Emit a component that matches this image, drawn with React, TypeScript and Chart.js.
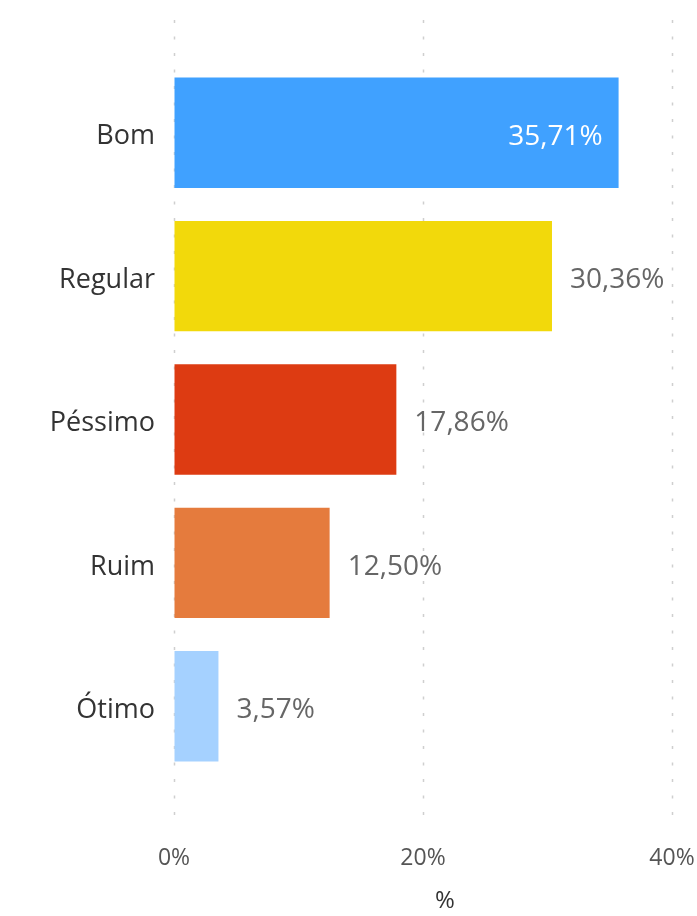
import React, { useEffect, useRef } from 'react';
import { Chart, registerables } from 'chart.js';

Chart.register(...registerables);

const categories = ['Bom', 'Regular', 'Péssimo', 'Ruim', 'Ótimo'];
const values = [35.71, 30.36, 17.86, 12.5, 3.57];
const barColors = ['#40A1FF', '#F2D90B', '#DD3B12', '#E57B3D', '#A5D1FF'];
const xTicks = [0, 20, 40];
const axisTitle = '%';
const labelInside = [true, false, false, false, false];

const FONT = "'Open Sans', 'DejaVu Sans', sans-serif";

const fmt = (v: number) => v.toFixed(2).replace('.', ',') + '%';

const dotGridPlugin = {
  id: 'dotGrid',
  beforeDatasetsDraw(chart: any) {
    const { ctx, chartArea, scales } = chart;
    const x = scales.x;
    ctx.save();
    ctx.strokeStyle = '#CFCFCF';
    ctx.lineWidth = 1.5;
    ctx.setLineDash([3, 13.5]);
    xTicks.forEach((v) => {
      const px = Math.round(x.getPixelForValue(v)) + 0.5;
      ctx.beginPath();
      ctx.moveTo(px, chartArea.top - 41);
      ctx.lineTo(px, chartArea.bottom + 48);
      ctx.stroke();
    });
    ctx.restore();
  },
};

const valueLabelPlugin = {
  id: 'valueLabels',
  afterDatasetsDraw(chart: any) {
    const { ctx, chartArea } = chart;
    const meta = chart.getDatasetMeta(0);
    ctx.save();
    ctx.font = `28px ${FONT}`;
    ctx.textBaseline = 'middle';
    meta.data.forEach((bar: any, i: number) => {
      const { x, y } = bar.getProps(['x', 'y'], true);
      const txt = fmt(values[i]);
      if (labelInside[i]) {
        ctx.fillStyle = '#FFFFFF';
        ctx.textAlign = 'right';
        ctx.fillText(txt, x - 16, y + 4);
      } else {
        ctx.fillStyle = '#666666';
        ctx.textAlign = 'left';
        ctx.fillText(txt, x + 18, y + 4);
      }
    });
    // axis title
    ctx.font = `24px ${FONT}`;
    ctx.fillStyle = '#333333';
    ctx.textAlign = 'center';
    ctx.fillText(axisTitle, (chartArea.left + chartArea.right) / 2 + 22, chartArea.bottom + 123);
    ctx.restore();
  },
};

export default function App() {
  const ref = useRef<HTMLCanvasElement | null>(null);

  useEffect(() => {
    if (!ref.current) return;
    const chart = new Chart(ref.current, {
      type: 'bar',
      data: {
        labels: categories,
        datasets: [
          {
            data: values,
            backgroundColor: barColors,
            borderWidth: 0,
            barPercentage: 0.77,
            categoryPercentage: 1,
          },
        ],
      },
      options: {
        indexAxis: 'y',
        responsive: false,
        animation: false,
        layout: { padding: { top: 61, right: 25, left: 0, bottom: 0 } },
        plugins: {
          legend: { display: false },
          tooltip: { enabled: false },
        },
        scales: {
          x: {
            min: 0,
            max: 40,
            afterBuildTicks(scale: any) {
              scale.ticks = xTicks.map((v) => ({ value: v }));
            },
            afterFit(scale: any) {
              scale.height = 916 - 778;
            },
            grid: {
              display: true,
              drawOnChartArea: false,
              drawTicks: true,
              tickLength: 67,
              color: 'rgba(0,0,0,0)',
            },
            border: { display: false },
            ticks: {
              padding: 0,
              color: '#555555',
              font: { family: FONT, size: 23 },
              callback: (v: any) => v + '%',
              maxRotation: 0,
            },
          },
          y: {
            afterFit(scale: any) {
              scale.width = 174;
            },
            grid: { display: false, drawTicks: false },
            border: { display: false },
            ticks: {
              padding: 19,
              labelOffset: 4,
              color: '#333333',
              font: { family: FONT, size: 27 },
            },
          },
        },
      },
      plugins: [dotGridPlugin, valueLabelPlugin],
    });
    return () => chart.destroy();
  }, []);

  return (
    <div style={{ position: 'fixed', left: 0, top: 0, width: 697, height: 916, background: '#fff' }}>
      <canvas ref={ref} width={697} height={916} style={{ display: 'block' }} />
    </div>
  );
}
